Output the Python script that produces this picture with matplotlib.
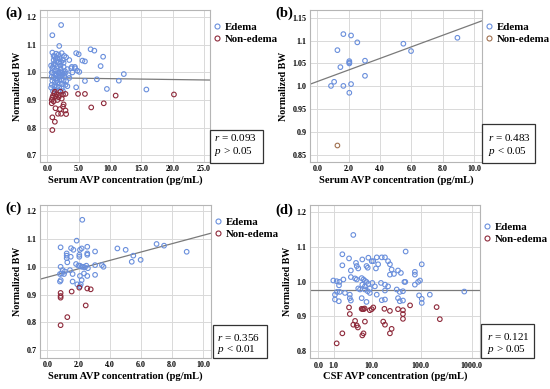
import numpy as np
import matplotlib
matplotlib.use('Agg')
import matplotlib.pyplot as plt
from matplotlib.patches import Rectangle
from matplotlib.lines import Line2D

plt.rcParams['font.family'] = ['Liberation Serif', 'DejaVu Serif']
plt.rcParams['mathtext.fontset'] = 'custom'
plt.rcParams['mathtext.it'] = 'Liberation Serif:italic'
plt.rcParams['mathtext.rm'] = 'Liberation Serif'

# ---------------- data ----------------
a_edema = [(2.2,1.172),(0.8,1.135),(1.9,1.096),(0.8,1.072),(1.4,1.068),(1.8,1.065),(2.3,1.070),(2.7,1.060),
           (3.0,1.055),(1.2,1.058),(1.6,1.052),(2.0,1.048),(2.5,1.045),(1.0,1.045),(1.4,1.040),(1.8,1.036),
           (2.2,1.038),(3.5,1.045),(1.0,1.030),(1.3,1.028),(1.7,1.022),(2.1,1.025),(2.6,1.020),(3.2,1.012),
           (3.8,1.015),(4.4,1.020),(0.8,1.015),(1.2,1.008),(1.6,1.005),(2.0,1.002),(2.4,1.000),(2.8,1.005),
           (0.8,0.998),(1.1,0.995),(1.5,0.992),(1.9,0.995),(2.3,0.990),(2.7,0.985),(3.4,0.990),(0.7,0.985),
           (1.0,0.980),(1.4,0.978),(1.8,0.982),(2.2,0.975),(2.6,0.972),(3.0,0.968),(0.8,0.970),(1.2,0.965),
           (1.6,0.962),(2.0,0.960),(2.4,0.958),(2.9,0.955),(0.7,0.955),(1.1,0.950),(1.5,0.948),(1.9,0.945),
           (2.3,0.942),(3.2,0.950),(1.2,0.938),(1.8,0.935),(2.5,0.932),(0.9,0.932),(4.6,1.070),(5.0,1.066),
           (6.9,1.084),(7.5,1.079),(8.9,1.057),(8.5,1.023),(5.6,1.043),(6.0,1.040),(4.8,1.006),(5.1,1.002),
           (3.9,1.020),(4.4,1.015),(12.2,0.994),(11.4,0.970),(7.9,0.975),(6.0,0.969),(9.5,0.940),(15.8,0.938),
           (4.6,0.946),(3.5,0.980),(4.0,1.000),(0.6,1.025),(0.9,1.020),(1.3,1.050),(1.7,0.999),(2.1,1.015),
           (2.5,0.995),(0.6,0.945),(1.0,1.060),(1.5,0.970),(2.0,0.985),(2.8,0.995),(0.7,1.000),(1.3,0.990),
           (1.9,1.055),(2.6,1.035)]
a_nonedema = [(0.8,0.791),(1.2,0.821),(0.8,0.837),(0.7,0.900),(0.7,0.888),(0.8,0.908),(0.9,0.915),(1.1,0.925),
              (1.5,0.920),(2.0,0.918),(2.5,0.920),(2.9,0.922),(1.3,0.912),(1.8,0.910),(2.3,0.905),(1.0,0.895),
              (1.6,0.900),(2.0,0.867),(2.5,0.876),(1.7,0.850),(2.2,0.850),(2.9,0.862),(3.0,0.849),(2.6,0.884),
              (1.3,0.870),(4.9,0.922),(6.0,0.922),(7.0,0.873),(9.0,0.888),(10.9,0.916),(20.2,0.920),(1.2,0.930),
              (2.1,0.930)]

b_edema = [(1.66,1.114),(2.15,1.111),(2.55,1.096),(1.28,1.079),(5.49,1.093),(5.98,1.077),(8.94,1.106),
           (2.04,1.055),(2.04,1.052),(2.04,1.050),(3.04,1.056),(1.47,1.042),(3.04,1.023),(1.07,1.010),
           (0.87,1.001),(1.66,1.001),(2.15,1.005),(2.04,0.986)]
b_nonedema = [(1.28,0.871)]

c_edema = [(2.24,1.169),(1.88,1.094),(0.85,1.070),(1.52,1.067),(1.67,1.061),(2.09,1.061),(2.2,1.066),(2.56,1.072),
           (3.06,1.055),(1.24,1.048),(1.24,1.040),(1.24,1.031),(1.28,1.016),(1.5,1.036),(2.05,1.043),(2.05,1.036),
           (2.56,1.048),(2.56,1.043),(1.84,1.010),(1.99,1.004),(2.09,1.004),(2.2,1.000),(2.3,1.000),(2.4,0.998),
           (2.5,1.004),(2.6,0.995),(3.06,1.006),(3.5,1.006),(3.6,1.000),(0.85,1.000),(0.98,0.988),(1.13,0.983),
           (0.81,0.974),(0.92,0.976),(1.07,0.974),(0.81,0.947),(0.86,0.952),(1.45,0.988),(1.62,0.974),(2.09,0.967),
           (2.56,0.967),(3.06,0.971),(2.35,0.976),(1.62,0.947),(1.92,0.937),(2.09,0.930),(2.14,0.937),(2.2,0.952),
           (4.49,1.066),(5.02,1.061),(7.0,1.082),(7.48,1.076),(5.51,1.040),(5.41,1.018),(5.98,1.025),(8.93,1.054)]
c_nonedema = [(0.85,0.906),(0.85,0.895),(0.85,0.889),(1.56,0.911),(2.05,0.925),(2.56,0.922),(2.78,0.919),
              (1.28,0.819),(2.46,0.861),(0.85,0.790)]

d_edema = [(3.8,1.135),(1.93,1.079),(1.93,1.047),(2.96,1.067),(4.42,1.054),(6.2,1.064),(8.46,1.069),(10.0,1.059),
           (10.8,1.059),(12.8,1.070),(16.3,1.070),(19.0,1.070),(22.0,1.059),(24.0,1.050),(13.7,1.050),(12.3,1.038),
           (7.7,1.045),(8.2,1.040),(5.0,1.038),(4.6,1.045),(3.3,1.032),(0.95,1.003),(1.27,1.001),(1.57,0.999),
           (1.52,0.989),(2.07,1.006),(3.3,1.013),(4.2,1.009),(4.6,1.006),(6.0,1.010),(6.6,1.006),(7.1,1.002),
           (7.7,0.999),(6.2,0.991),(7.1,0.986),(8.46,0.993),(5.0,0.980),(5.5,0.977),(7.1,0.977),(8.2,0.972),
           (9.1,0.967),(1.1,0.962),(1.3,0.970),(1.6,0.970),(2.3,0.967),(1.1,0.948),(1.5,0.943),(3.1,0.962),
           (3.1,0.952),(3.3,0.945),(6.0,0.952),(7.7,0.941),(9.1,0.980),(10.3,0.996),(11.7,0.986),(12.8,0.962),
           (15.7,0.996),(19.0,0.991),(22.0,0.986),(19.0,0.974),(16.3,0.946),(19.0,0.948),(24.0,1.020),(26.0,1.035),
           (29.0,1.022),(35.0,1.032),(40.0,1.025),(33.0,0.977),(38.0,0.970),(44.0,0.972),(35.0,0.952),(38.0,0.943),
           (44.0,0.945),(47.0,0.999),(49.0,0.999),(49.8,1.087),(76.0,1.028),(76.0,1.020),(88.0,0.999),(96.0,1.003),
           (76.0,0.991),(104.0,1.050),(92.0,0.960),(104.0,0.950),(104.0,0.938),(150.0,0.962),(713.0,0.971)]
d_nonedema = [(1.27,0.821),(1.93,0.850),(2.96,0.925),(3.1,0.906),(4.2,0.886),(4.6,0.873),(3.8,0.875),(4.9,0.867),
              (6.2,0.844),(6.6,0.850),(7.1,0.884),(6.3,0.920),(6.6,0.920),(6.0,0.921),(7.0,0.922),(9.1,0.917),
              (10.0,0.920),(10.8,0.925),(18.5,0.921),(17.5,0.884),(19.0,0.875),(24.0,0.915),(26.0,0.863),
              (24.0,0.850),(35.0,0.920),(44.0,0.917),(44.0,0.906),(44.0,0.892),(61.0,0.931),(204.0,0.926),
              (236.0,0.891)]

# fit lines: (intercept, slope)
fit_a = (0.9806, -0.000317)
fit_b = (1.0106, 0.0126)
fit_c = (0.9625, 0.01509)
fit_d = (0.976, 0.0)

stats_r = ['0.093', '0.483', '0.356', '0.121']
stats_p = ['> 0.05', '< 0.05', '< 0.01', '> 0.05']
panel_labels = ['(a)', '(b)', '(c)', '(d)']
xlabels = ['Serum AVP concentration (pg/mL)', 'Serum AVP concentration (pg/mL)',
           'Serum AVP concentration (pg/mL)', 'CSF AVP concentration (pg/mL)']
ylabel = 'Normalized BW'
legend_labels = ['Edema', 'Non-edema']

a_xticks = [0, 5, 10, 15, 20, 25]
bc_xticks = [0, 2, 4, 6, 8, 10]
d_xticks = [0, 1, 10, 100, 1000]
ac_yticks = [0.7, 0.8, 0.9, 1.0, 1.1, 1.2]
b_yticks = [0.85, 0.90, 0.95, 1.00, 1.05, 1.10, 1.15]
b_yticklabels = ['0.85', '0.9', '0.95', '1.0', '1.05', '1.1', '1.15']
d_yticks = [0.8, 0.9, 1.0, 1.1, 1.2]

# ---------------- styling ----------------
W, H = 550, 389
fig = plt.figure(figsize=(5.5, 3.89), dpi=100)

def fx(px):
    return px / W

def fy(py):
    return 1 - py / H

EDEMA_C = '#6a8fdc'
NON_C = '#8e2a3b'
NON_C_B = '#a0704f'
GRID_C = '#d9d9d9'
LINE_C = '#7a7a7a'

# axes boxes in pixels: left, top, right, bottom
boxes = [(40, 10, 210, 162), (310, 10, 481.7, 162), (40, 205, 210.7, 358), (310, 205, 480, 358.3)]
axes = []
for (l, t, r, b) in boxes:
    ax = fig.add_axes([fx(l), fy(b), (r - l) / W, (b - t) / H])
    axes.append(ax)

def fwd(x):
    x = np.asarray(x, dtype=float)
    return np.log10(np.clip(x + 1, 1e-6, None))

def inv(u):
    return 10 ** np.asarray(u, dtype=float) - 1

datasets = [(a_edema, a_nonedema, fit_a), (b_edema, b_nonedema, fit_b),
            (c_edema, c_nonedema, fit_c), (d_edema, d_nonedema, fit_d)]
legend_top = [22, 22, 217, 222]

for i, ax in enumerate(axes):
    ed, ne, fit = datasets[i]
    ncol = NON_C_B if i == 1 else NON_C
    if i == 3:
        ax.set_xscale('function', functions=(fwd, inv))
    ed = np.array(ed).T
    ne = np.array(ne).T
    ax.scatter(ed[0], ed[1], s=11, facecolors='none', edgecolors=EDEMA_C, linewidths=0.8, zorder=3)
    ax.scatter(ne[0], ne[1], s=11, facecolors='none', edgecolors=ncol, linewidths=0.8, zorder=3)
    if i == 3:
        ax.axhline(fit[0], color=LINE_C, lw=0.9, zorder=2)
    else:
        ax.axline((0, fit[0]), slope=fit[1], color=LINE_C, lw=0.9, zorder=2)

    ax.grid(True, color=GRID_C, lw=0.7, zorder=0)
    ax.set_axisbelow(True)
    for s in ax.spines.values():
        s.set_color('#b5b5b5')
        s.set_linewidth(0.8)
    ax.set_xlabel(xlabels[i], fontsize=7.6, fontweight='bold', labelpad=1.5)
    ax.set_ylabel(ylabel, fontsize=7.2, fontweight='bold', labelpad=3)

    handles = [Line2D([], [], ls='none', marker='o', ms=3.6, mfc='none', mec=EDEMA_C, mew=0.8),
               Line2D([], [], ls='none', marker='o', ms=3.6, mfc='none', mec=ncol, mew=0.8)]
    l, t, r, b = boxes[i]
    ax.legend(handles, legend_labels, loc='upper left',
              bbox_to_anchor=(fx(r + 2.5), fy(legend_top[i])),
              bbox_transform=fig.transFigure, frameon=False, borderpad=0, borderaxespad=0,
              handlelength=0.8, handletextpad=0.35, labelspacing=0.25,
              prop={'size': 7.8, 'weight': 'bold'})

# axis settings
axes[0].set_xlim(-1.17, 25.95); axes[0].set_ylim(0.675, 1.2265)
axes[0].set_xticks(a_xticks); axes[0].set_xticklabels([f'{v:.1f}' for v in a_xticks])
axes[0].set_yticks(ac_yticks); axes[0].set_yticklabels([f'{v:.1f}' for v in ac_yticks])

axes[1].set_xlim(-0.47, 10.49); axes[1].set_ylim(0.835, 1.1666)
axes[1].set_xticks(bc_xticks); axes[1].set_xticklabels([f'{v:.1f}' for v in bc_xticks])
axes[1].set_yticks(b_yticks); axes[1].set_yticklabels(b_yticklabels)

axes[2].set_xlim(-0.47, 10.47); axes[2].set_ylim(0.672, 1.2222)
axes[2].set_xticks(bc_xticks); axes[2].set_xticklabels([f'{v:.1f}' for v in bc_xticks])
axes[2].set_yticks(ac_yticks); axes[2].set_yticklabels([f'{v:.1f}' for v in ac_yticks])

axes[3].set_xlim(-0.318, 1448); axes[3].set_ylim(0.7777, 1.2217)
axes[3].set_xticks(d_xticks); axes[3].set_xticklabels([f'{v:.1f}' for v in d_xticks])
axes[3].set_yticks(d_yticks); axes[3].set_yticklabels([f'{v:.1f}' for v in d_yticks])

for ax in axes:
    ax.tick_params(length=0, pad=2.4, labelsize=5.8)
    for lab in ax.get_xticklabels() + ax.get_yticklabels():
        lab.set_fontweight('bold')

# stats boxes (pixels: left, top, right, bottom, text x, row1 y, row2 y)
sboxes = [(210, 130, 263, 162.5, 214, 138, 152),
          (481.7, 124, 535, 162.5, 488, 138, 152),
          (212.7, 325, 266.7, 358, 216.7, 337.3, 349.3),
          (481, 324, 534, 358.3, 487, 336.7, 349.3)]
for i, (l, t, r, b, tx, y1, y2) in enumerate(sboxes):
    fig.patches.append(Rectangle((fx(l), fy(b)), (r - l) / W, (b - t) / H, transform=fig.transFigure,
                                 fill=False, edgecolor='#333333', lw=0.9))
    fig.text(fx(tx), fy(y1), r'$\it{r}$ = ' + stats_r[i], fontsize=8, va='center', ha='left')
    fig.text(fx(tx), fy(y2), r'$\it{p}$ ' + stats_p[i], fontsize=8, va='center', ha='left')

# panel labels
plabel_pos = [(5, 13), (275, 13), (5, 208), (275, 210)]
for i, (px, py) in enumerate(plabel_pos):
    fig.text(fx(px), fy(py), panel_labels[i], fontsize=10.5, fontweight='bold', va='center', ha='left')

fig.savefig('out.png', dpi=100)
